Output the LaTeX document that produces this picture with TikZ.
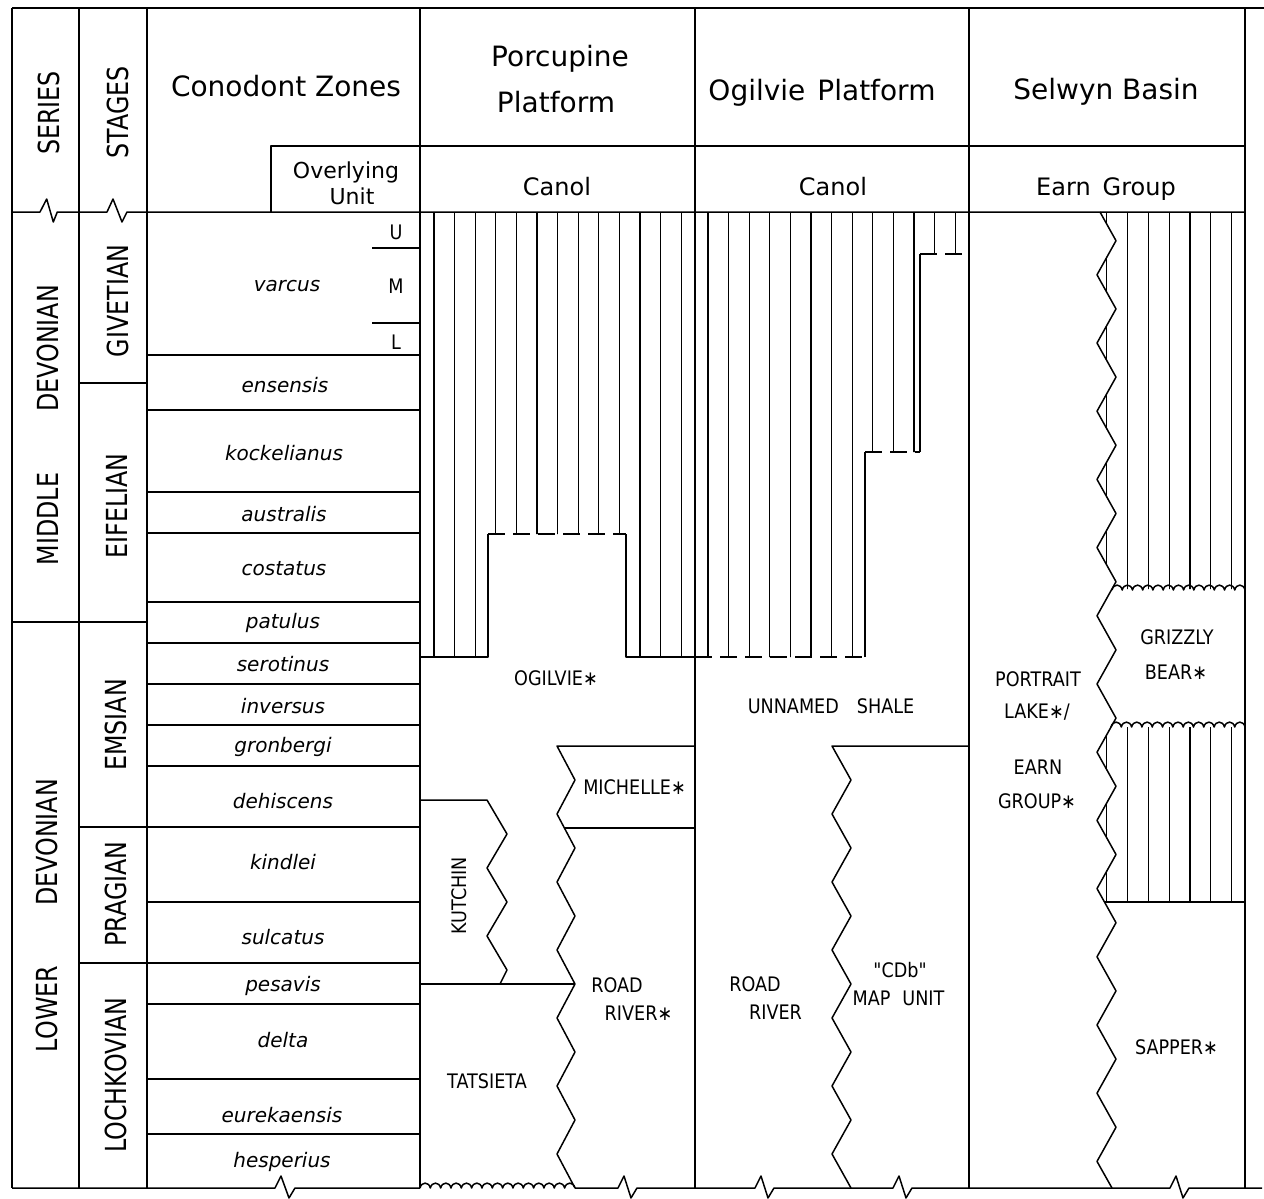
\documentclass[tikz,border=0pt]{standalone}
\usepackage{fontspec}
\setmainfont{DejaVu Sans}
\newfontfamily\capsf[FakeStretch=0.82]{DejaVu Sans}
\newfontfamily\fmf[FakeStretch=0.88]{DejaVu Sans}
\begin{document}
\begin{tikzpicture}[x=1pt,y=-1pt,
  frame/.style={line width=1.5pt,line join=round},
  hatchln/.style={line width=1.2pt},
  dashedge/.style={line width=1.5pt,dash pattern=on 17pt off 8pt},
  hdr/.style={font=\fontsize{28}{30}\selectfont,inner sep=0pt,anchor=base},
  subhdr/.style={font=\fontsize{24}{26}\selectfont,inner sep=0pt,anchor=base},
  ovl/.style={font=\fontsize{22}{24}\selectfont,inner sep=0pt,anchor=base},
  zone/.style={font=\fontsize{20}{22}\selectfont\itshape,inner sep=0pt},
  vlab/.style={font=\capsf\fontsize{29}{31}\selectfont,rotate=90,inner sep=0pt},
  fm/.style={font=\fmf\fontsize{20}{22}\selectfont,inner sep=0pt},
  uml/.style={font=\fmf\fontsize{20}{22}\selectfont,inner sep=0pt}]
\useasboundingbox (0,0) rectangle (1264,1199);

% ---------- hatching (Canol / shale) ----------
\begin{scope}
  \clip (420,212) -- (969,212) -- (969,254) -- (920,254) -- (920,452) -- (865,452)
        -- (865,657) -- (626,657) -- (626,534) -- (488,534) -- (488,657) -- (420,657) -- cycle;
  \foreach \k in {0,...,12} {
    \draw[hatchln] ({434+20.6*\k},212) -- ++(0,450);
    \draw[hatchln] ({708+20.6*\k},212) -- ++(0,450);
  }
\end{scope}
\begin{scope}
  \clip (1100,212) \foreach \k in {0,...,13} { -- (1116,{240.7+68.2*\k}) -- (1097,{274.8+68.2*\k}) }
        -- (1112,1188) -- (1250,1188) -- (1250,212) -- cycle;
  \clip (1090,212) rectangle (1250,589) (1090,727) rectangle (1250,902);
  \foreach \k in {0,...,6} \draw[hatchln] ({1106.7+20.8*\k},212) -- ++(0,700);
\end{scope}

% ---------- frame ----------
\draw[frame] (12,8) -- (1264,8);
\foreach \x in {12,79,147,420,695,969,1245} \draw[frame] (\x,8) -- (\x,1188);
\draw[frame] (271,212) -- (271,146) -- (1245,146);
\draw[frame] (12,212) -- (40,212) -- (46.7,199) -- (53.3,222) -- (57.3,212) -- (107,212)
   -- (113,199) -- (122,222) -- (127,212) -- (1245,212);
% bottom line with breaks
\draw[frame] (12,1188) -- (275,1188) -- ++(6,-12) -- ++(8,22) -- ++(6,-10) -- (420,1188);
\draw[frame] (575,1188) -- (618,1188) -- ++(6,-12) -- ++(7,22) -- ++(6,-10) -- (755,1188)
   -- ++(6,-12) -- ++(7,22) -- ++(6,-10) -- (893,1188)
   -- ++(6,-12) -- ++(7,22) -- ++(6,-10) -- (1170,1188)
   -- ++(6,-12) -- ++(7,22) -- ++(6,-10) -- (1262,1188);

% zone boundaries
\foreach \y in {355,410,492,533,602,643,684,725,766,827,902,963,1004,1079,1134}
  \draw[frame] (147,\y) -- (420,\y);
\draw[frame] (372,248) -- (420,248);
\draw[frame] (372,323) -- (420,323);
% stage / series boundaries
\draw[frame] (79,383) -- (147,383);
\draw[frame] (12,622) -- (147,622);
\draw[frame] (79,827) -- (147,827);
\draw[frame] (79,963) -- (147,963);

% ---------- hatched-unit boundaries ----------
\draw[frame] (420,657) -- (488,657) -- (488,534);
\draw[dashedge] (488,534) -- (626,534);
\draw[frame] (626,534) -- (626,657) -- (695,657);
\draw[dashedge] (695,657) -- (865,657);
\draw[frame] (865,657) -- (865,452);
\draw[dashedge] (865,452) -- (920,452);
\draw[frame] (920,452) -- (920,254);
\draw[dashedge] (920,254) -- (969,254);

% ---------- Porcupine Platform units ----------
\draw[frame] (420,800) -- (487,800) -- (507,834) -- (487,868) -- (507,902) -- (487,936) -- (507,970) -- (500,984);
\draw[frame] (420,984) -- (575,984);
\draw[frame] (695,746) -- (557,746) \foreach \k in {0,...,5} { -- (575,{780+68*\k}) -- (557,{814+68*\k}) } -- (575,1188);
\draw[frame] (564,828) -- (695,828);
\draw[frame] (420,1188) \foreach \i in {1,...,15} { .. controls +(1.5,-6.5) and +(-1.5,-6.5) .. ++(10.33,0) };

% ---------- Ogilvie Platform units ----------
\draw[frame] (969,746) -- (832,746) \foreach \k in {0,...,5} { -- (851,{780+68*\k}) -- (832,{814+68*\k}) } -- (851,1188);

% ---------- Selwyn Basin units ----------
\draw[frame] (1100,212) \foreach \k in {0,...,13} { -- (1116,{240.7+68.2*\k}) -- (1097,{274.8+68.2*\k}) } -- (1112,1188);
\draw[frame] (1112,590) \foreach \i in {1,...,13} { .. controls +(1.5,-6.5) and +(-1.5,-6.5) .. ++(10.23,0) };
\draw[frame] (1111,727) \foreach \i in {1,...,13} { .. controls +(1.5,-6.5) and +(-1.5,-6.5) .. ++(10.31,0) };
\draw[frame] (1104.5,902) -- (1245,902);

% ---------- header text ----------
\node[vlab] (series) at (48.5,113) {SERIES};
\node[vlab] (stages) at (117.5,112.5) {STAGES};
\node[hdr] (hzones) at (286,96.7) {Conodont Zones};
\node[ovl] (ovl1) at (346,178) {Overlying};
\node[ovl] (ovl2) at (352,204) {Unit};
\node[hdr] (hporc1) at (560,66.7) {Porcupine};
\node[hdr] (hporc2) at (556,112.7) {Platform};
\node[hdr] (hogil) at (822,100) {Ogilvie\hspace{12pt}Platform};
\node[hdr] (hselw) at (1106,99.3) {Selwyn Basin};
\node[subhdr] (canol1) at (557,195) {Canol};
\node[subhdr] (canol2) at (833,195) {Canol};
\node[subhdr] (earn) at (1106,195) {Earn\hspace{12pt}Group};

% ---------- series / stages ----------
\node[vlab] (devm) at (48.3,348.5) {DEVONIAN};
\node[vlab] (mid) at (48.3,519) {MIDDLE};
\node[vlab] (devl) at (46.7,842.5) {DEVONIAN};
\node[vlab] (low) at (46.7,1009) {LOWER};
\node[vlab] (giv) at (118,301) {GIVETIAN};
\node[vlab] (eif) at (117,506) {EIFELIAN};
\node[vlab] (ems) at (116,725) {EMSIAN};
\node[vlab] (pra) at (116,894) {PRAGIAN};
\node[vlab] (loc) at (116,1075) {LOCHKOVIAN};

% ---------- conodont zones ----------
\node[zone] (zvar) at (287,286) {varcus};
\node[uml] (zu) at (396,232) {U};
\node[uml] (zm) at (396,286) {M};
\node[uml] (zl) at (396,342) {L};
\node[zone] (zens) at (285,385) {ensensis};
\node[zone] (zkoc) at (284,453) {kockelianus};
\node[zone] (zaus) at (284,514) {australis};
\node[zone] (zcos) at (284,569) {costatus};
\node[zone] (zpat) at (283,623) {patulus};
\node[zone] (zser) at (283,664) {serotinus};
\node[zone] (zinv) at (283,706) {inversus};
\node[zone] (zgro) at (283,747) {gronbergi};
\node[zone] (zdeh) at (283,801) {dehiscens};
\node[zone] (zkin) at (283,862) {kindlei};
\node[zone] (zsul) at (283,937) {sulcatus};
\node[zone] (zpes) at (283,986) {pesavis};
\node[zone] (zdel) at (283,1040) {delta};
\node[zone] (zeur) at (282,1115) {eurekaensis};
\node[zone] (zhes) at (282,1162) {hesperius};

% ---------- formation labels ----------
\node[fm] (fogil) at (556,678) {OGILVIE∗};
\node[fm] (fmich) at (634.5,787.5) {MICHELLE∗};
\node[fm,rotate=90] (fkut) at (459.5,895.7) {KUTCHIN};
\node[fm] (ftat) at (487,1081) {TATSIETA};
\node[fm] (frr1) at (617,985.5) {ROAD};
\node[fm] (frr2) at (638.5,1013) {RIVER∗};
\node[fm] (fshale) at (831,706) {UNNAMED\hspace{18pt}SHALE};
\node[fm] (frr3) at (755,984.5) {ROAD};
\node[fm] (frr4) at (775.5,1012) {RIVER};
\node[fm] (fcdb) at (900,970) {"CDb"};
\node[fm] (fmap) at (898.5,998) {MAP\hspace{12pt}UNIT};
\node[fm] (fgb1) at (1177,637) {GRIZZLY};
\node[fm] (fgb2) at (1176,672) {BEAR∗};
\node[fm] (fpl1) at (1038,679) {PORTRAIT};
\node[fm] (fpl2) at (1037,712) {LAKE∗/};
\node[fm] (feg1) at (1038,767) {EARN};
\node[fm] (feg2) at (1037,801) {GROUP∗};
\node[fm] (fsap) at (1176.5,1047) {SAPPER∗};
\end{tikzpicture}
\end{document}
